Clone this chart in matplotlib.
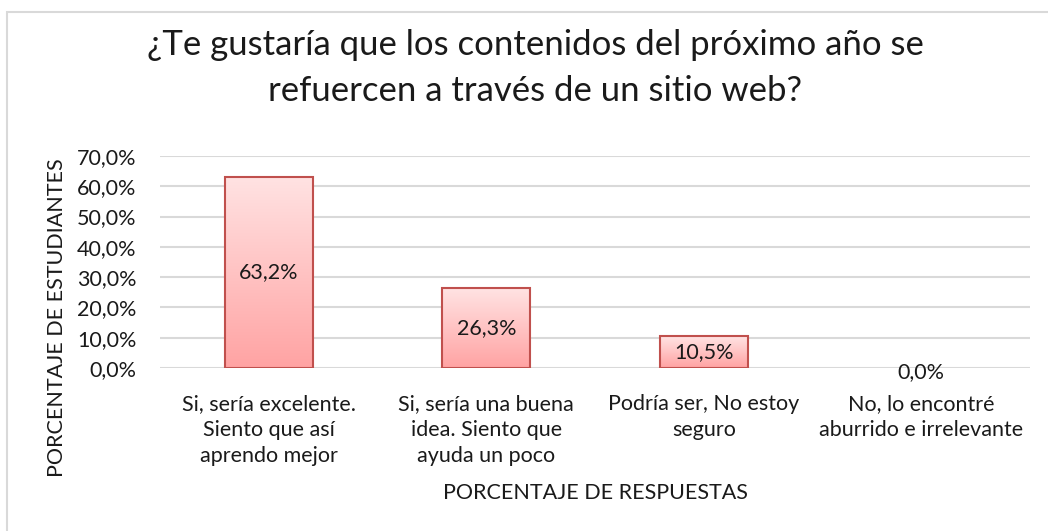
import matplotlib
matplotlib.use("Agg")
import matplotlib.pyplot as plt
import numpy as np
from matplotlib.patches import Rectangle
from matplotlib.colors import LinearSegmentedColormap

plt.rcParams['font.family'] = ['Lato', 'DejaVu Sans']

categories = ["Si, sería excelente.\nSiento que así\naprendo mejor",
              "Si, sería una buena\nidea. Siento que\nayuda un poco",
              "Podría ser, No estoy\nseguro",
              "No, lo encontré\naburrido e irrelevante"]
values = [63.2, 26.3, 10.5, 0.0]
value_labels = ["63,2%", "26,3%", "10,5%", "0,0%"]
yticks = [0, 10, 20, 30, 40, 50, 60, 70]
ytick_labels = ["0,0%", "10,0%", "20,0%", "30,0%", "40,0%", "50,0%", "60,0%", "70,0%"]
title = "¿Te gustaría que los contenidos del próximo año se\nrefuercen a través de un sitio web?"
ylabel = "PORCENTAJE DE ESTUDIANTES"
xlabel = "PORCENTAJE DE RESPUESTAS"

W, H = 1048, 531
FS = 15.5
TXT = '#1a1a1a'
fig = plt.figure(figsize=(W / 100, H / 100), dpi=100)
fig.patch.set_facecolor('white')

# outer chart border (only left/top visible)
fig.patches.append(Rectangle((7 / W, -0.1), 1.2, 1.1 - 12 / H, transform=fig.transFigure,
                             fill=False, edgecolor='#D9D9D9', linewidth=1.5, zorder=0))

ax = fig.add_axes([160 / W, (H - 368) / H, 870 / W, 212 / H])
ax.set_yticks(yticks)
ax.set_yticklabels(ytick_labels, fontsize=FS, color=TXT)
ax.yaxis.grid(True, color='#D9D9D9', linewidth=1.5)
ax.set_axisbelow(True)
for s in ax.spines.values():
    s.set_visible(False)
ax.tick_params(axis='both', length=0)
ax.tick_params(axis='y', pad=17)
ax.set_xticks(range(len(categories)))
ax.set_xticklabels(categories, fontsize=FS, color=TXT, linespacing=1.35)
ax.tick_params(axis='x', pad=19)

cmap = LinearSegmentedColormap.from_list('pink', ['#FFA3A3', '#FFE3E3'])
grad = np.linspace(0, 1, 256).reshape(-1, 1)
bars = ax.bar(range(len(categories)), values, width=0.405, facecolor='none',
              edgecolor='#C0504D', linewidth=1.5, zorder=3)
for b in bars:
    x0, y0 = b.get_x(), b.get_y()
    w, h = b.get_width(), b.get_height()
    if h <= 0:
        b.set_linewidth(0)
        continue
    im = ax.imshow(grad, cmap=cmap, aspect='auto', origin='lower',
                   extent=(x0, x0 + w, y0, y0 + h), zorder=2)
    im.set_clip_path(b)
ax.set_xlim(-0.5, len(categories) - 0.5)
ax.set_ylim(0, 70)

for i, (v, lab) in enumerate(zip(values, value_labels)):
    ax.text(i, v / 2 + (0.0 if v > 0 else -1.3), lab, ha='center', va='center',
            fontsize=FS, color=TXT, zorder=4)

fig.text(535 / W, 1 - 68 / H, title, ha='center', va='center', fontsize=25,
         color=TXT, linespacing=1.55)
fig.text(57 / W, 1 - 318 / H, ylabel, ha='center', va='center', rotation=90,
         fontsize=FS, color=TXT)
fig.text(595 / W, 1 - 493 / H, xlabel, ha='center', va='center',
         fontsize=FS, color=TXT)

fig.savefig('out.png', dpi=100)
